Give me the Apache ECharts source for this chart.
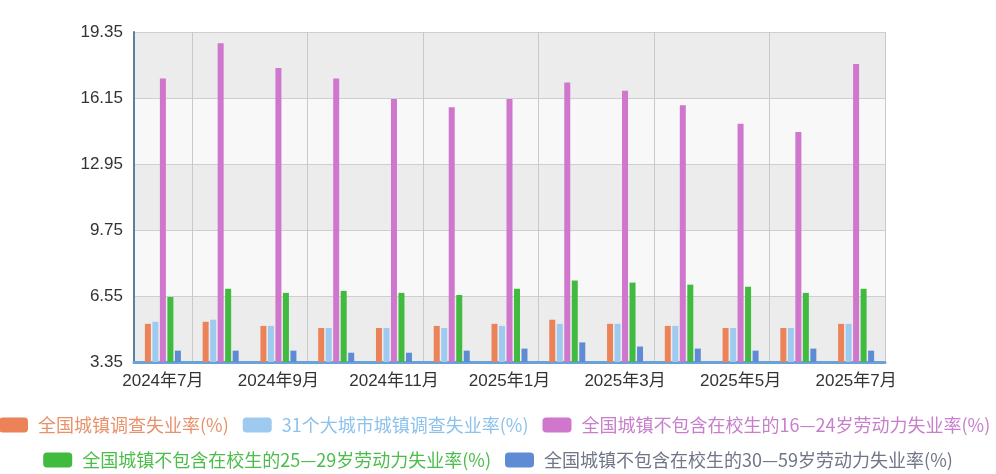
<!DOCTYPE html>
<html>
<head>
<meta charset="utf-8">
<script src="https://cdn.jsdelivr.net/npm/echarts@6/dist/echarts.min.js"></script>
<style>
  html, body { margin: 0; padding: 0; background: #fff; }
  #main { width: 996px; height: 474px; }
</style>
</head>
<body>
<div id="main"></div>
<script>
var months = ['2024年7月', '2024年8月', '2024年9月', '2024年10月', '2024年11月', '2024年12月',
  '2025年1月', '2025年2月', '2025年3月', '2025年4月', '2025年5月', '2025年6月', '2025年7月'];
var names = ['全国城镇调查失业率(%)', '31个大城市城镇调查失业率(%)',
  '全国城镇不包含在校生的16—24岁劳动力失业率(%)', '全国城镇不包含在校生的25—29岁劳动力失业率(%)',
  '全国城镇不包含在校生的30—59岁劳动力失业率(%)'];
var national = [5.2, 5.3, 5.1, 5.0, 5.0, 5.1, 5.2, 5.4, 5.2, 5.1, 5.0, 5.0, 5.2];
var bigCities = [5.3, 5.4, 5.1, 5.0, 5.0, 5.0, 5.1, 5.2, 5.2, 5.1, 5.0, 5.0, 5.2];
var age16to24 = [17.1, 18.8, 17.6, 17.1, 16.1, 15.7, 16.1, 16.9, 16.5, 15.8, 14.9, 14.5, 17.8];
var age25to29 = [6.5, 6.9, 6.7, 6.8, 6.7, 6.6, 6.9, 7.3, 7.2, 7.1, 7.0, 6.7, 6.9];
var age30to59 = [3.9, 3.9, 3.9, 3.8, 3.8, 3.9, 4.0, 4.3, 4.1, 4.0, 3.9, 4.0, 3.9];
var yTicks = [3.35, 6.55, 9.75, 12.95, 16.15, 19.35];

var colors = ['#ec8258', '#9fcaf0', '#cf76cd', '#40bb40', '#5f8bd4'];
var textColors = ['#e8926c', '#8cc2ec', '#c77fcb', '#4cbd4c', '#6f7686'];
var allData = [national, bigCities, age16to24, age25to29, age30to59];

var chart = echarts.init(document.getElementById('main'));

function legendItems(from, to) {
  var arr = [];
  for (var i = from; i < to; i++) {
    arr.push({ name: names[i], textStyle: { color: textColors[i] } });
  }
  return arr;
}

var series = [];
for (var i = 0; i < names.length; i++) {
  series.push({
    name: names[i],
    type: 'bar',
    barWidth: 6,
    barGap: '25%',
    itemStyle: { color: colors[i] },
    data: allData[i]
  });
}

var legendBase = {
  icon: 'roundRect',
  itemWidth: 29,
  itemHeight: 15,
  itemGap: 14,
  textStyle: { fontSize: 18, fontFamily: 'Noto Sans CJK SC', padding: [0, 0, 0, 5] }
};

var option = {
  animation: false,
  backgroundColor: '#fff',
  grid: { left: 134, right: 111, top: 32, bottom: 112 },
  legend: [
    Object.assign({}, legendBase, { left: -6, top: 411, width: 1100, data: legendItems(0, 3) }),
    Object.assign({}, legendBase, { left: 'center', top: 446, data: legendItems(3, 5) })
  ],
  xAxis: {
    type: 'category',
    data: months,
    axisLine: { lineStyle: { color: '#6aa2d8', width: 3 } },
    axisTick: {
      length: 6,
      interval: function (idx) { return idx % 2 === 1; },
      lineStyle: { color: '#55606e' }
    },
    axisLabel: {
      interval: 1,
      fontSize: 17,
      color: '#333',
      fontFamily: 'Liberation Sans, Noto Sans CJK SC',
      margin: 11
    },
    splitLine: {
      show: true,
      interval: function (idx) { return idx % 2 === 1; },
      lineStyle: { color: '#c9c9c9' }
    }
  },
  yAxis: {
    type: 'value',
    min: yTicks[0],
    max: yTicks[yTicks.length - 1],
    interval: 3.2,
    axisLine: { show: true, lineStyle: { color: '#5c7fa6', width: 2 } },
    axisTick: { show: false },
    axisLabel: {
      fontSize: 17,
      color: '#333',
      fontFamily: 'Liberation Sans',
      margin: 11,
      formatter: function (v) { return v.toFixed(2); }
    },
    splitLine: { lineStyle: { color: '#cfcfcf' } },
    splitArea: { show: true, areaStyle: { color: ['#ececec', '#f8f8f8'] } }
  },
  series: series
};

chart.setOption(option);
</script>
</body>
</html>
